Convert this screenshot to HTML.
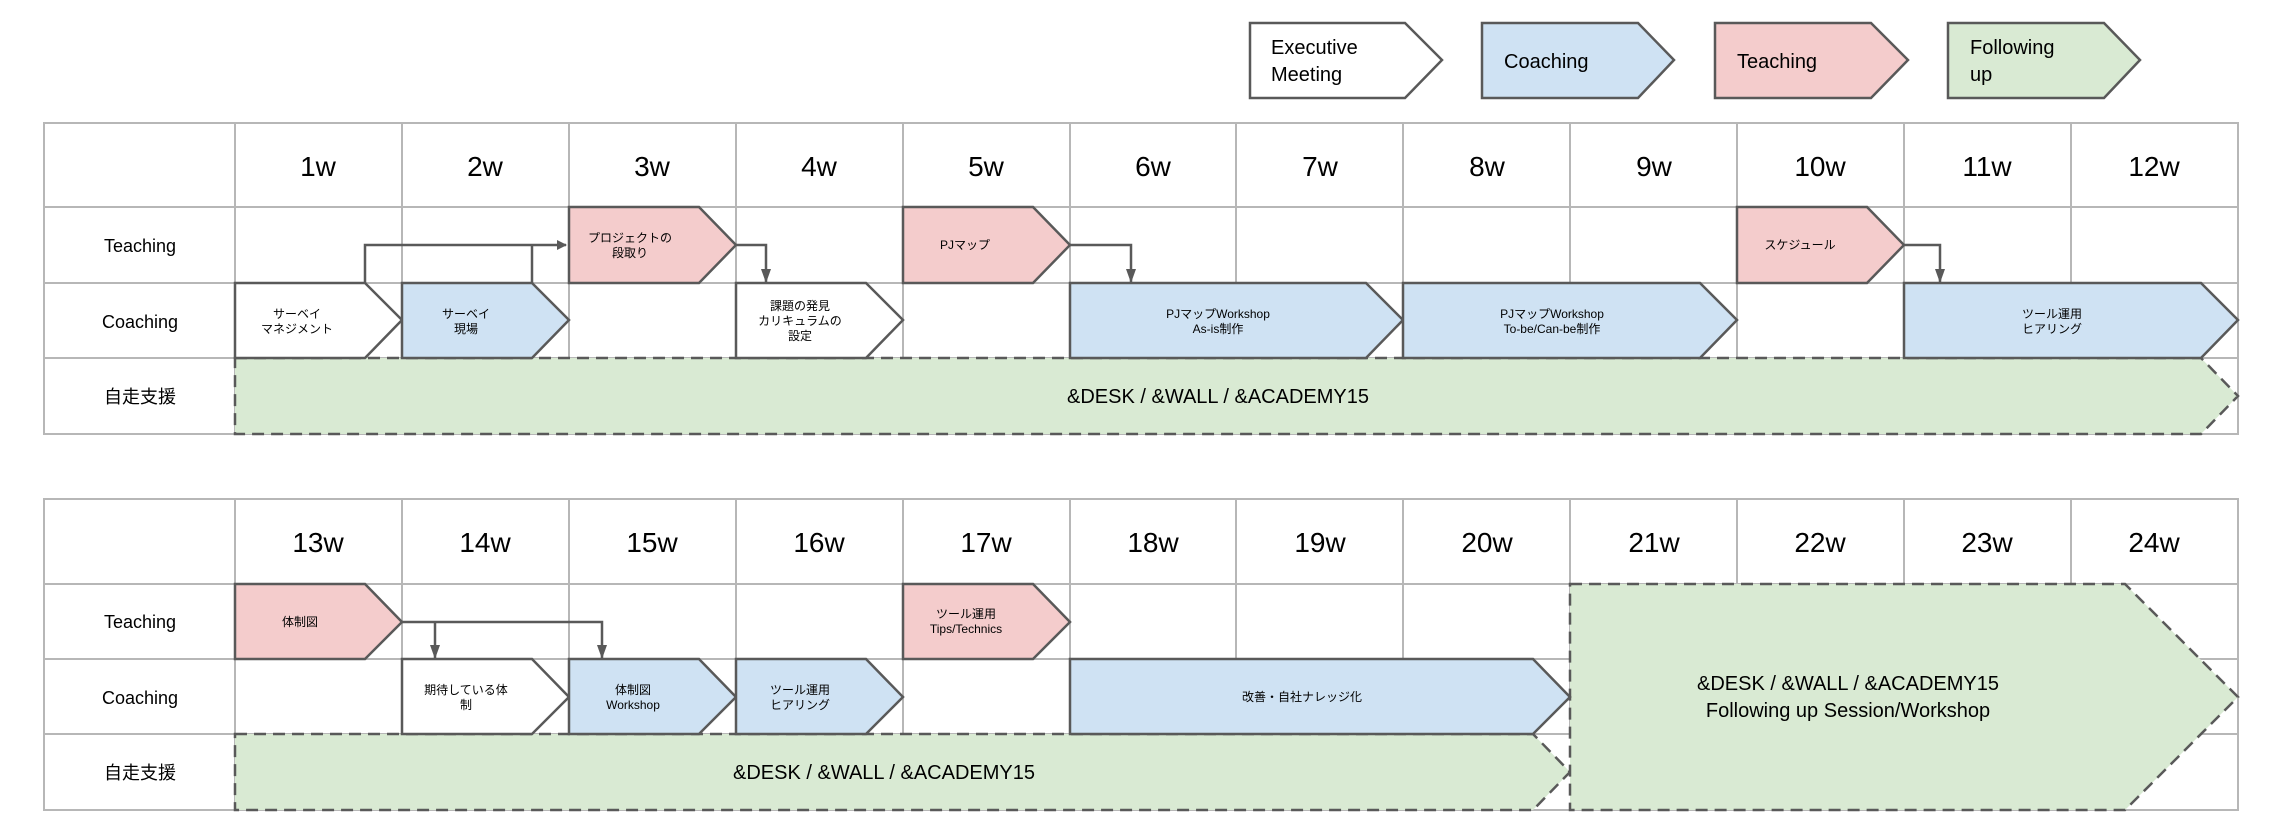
<!DOCTYPE html>
<html><head><meta charset="utf-8"><style>
html,body{margin:0;padding:0;background:#fff;}
svg{display:block;}
text{font-family:"Liberation Sans","Noto Sans CJK JP",sans-serif;fill:#000;}
</style></head><body>
<svg width="2288" height="834" viewBox="0 0 2288 834" xmlns="http://www.w3.org/2000/svg">
<defs>
<marker id="ar" markerWidth="10" markerHeight="10" refX="9" refY="5" orient="auto" markerUnits="userSpaceOnUse"><path d="M0,0 L10,5 L0,10 Z" fill="#595959"/></marker>
<marker id="ad" markerWidth="10" markerHeight="14" refX="5" refY="13" orient="0" markerUnits="userSpaceOnUse"><path d="M0,0 L10,0 L5,14 Z" fill="#595959"/></marker>
</defs>

<!-- Legend -->
<g stroke="#595959" stroke-width="2.5">
<path d="M1250 23 H1405 L1442 60 L1405 98 H1250 Z" fill="#fff"/>
<path d="M1482 23 H1638 L1674 60 L1638 98 H1482 Z" fill="#cfe2f3"/>
<path d="M1715 23 H1871 L1908 60 L1871 98 H1715 Z" fill="#f4cccc"/>
<path d="M1948 23 H2104 L2140 60 L2104 98 H1948 Z" fill="#d9ead3"/>
</g>
<g font-size="20">
<text x="1271" y="54">Executive</text><text x="1271" y="81">Meeting</text>
<text x="1504" y="68">Coaching</text>
<text x="1737" y="68">Teaching</text>
<text x="1970" y="54">Following</text><text x="1970" y="81">up</text>
</g>

<!-- ===== TOP TABLE ===== -->
<g stroke="#b7b7b7" stroke-width="2" fill="none">
<rect x="44" y="123" width="2194" height="311"/>
<path d="M44 207 H2238 M44 283 H2238 M44 358 H2238"/>
<path d="M235 123 V434 M402 123 V358 M569 123 V358 M736 123 V358 M903 123 V358 M1070 123 V358 M1236 123 V358 M1403 123 V358 M1570 123 V358 M1737 123 V358 M1904 123 V358 M2071 123 V358"/>
</g>
<g font-size="28" text-anchor="middle">
<text x="318" y="176">1w</text><text x="485" y="176">2w</text><text x="652" y="176">3w</text><text x="819" y="176">4w</text><text x="986" y="176">5w</text><text x="1153" y="176">6w</text><text x="1320" y="176">7w</text><text x="1487" y="176">8w</text><text x="1654" y="176">9w</text><text x="1820" y="176">10w</text><text x="1987" y="176">11w</text><text x="2154" y="176">12w</text>
</g>
<g font-size="18" text-anchor="middle">
<text x="140" y="252">Teaching</text><text x="140" y="328">Coaching</text><text x="140" y="403">自走支援</text>
</g>

<!-- green band -->
<path d="M235 358 H2201 L2238 396 L2201 434 H235 Z" fill="#d9ead3" stroke="#595959" stroke-width="2.5" stroke-dasharray="12,7"/>
<text x="1218" y="403" font-size="20" text-anchor="middle">&amp;DESK / &amp;WALL / &amp;ACADEMY15</text>

<g stroke="#595959" stroke-width="2.5">
<!-- teaching -->
<path d="M569 207 H699 L736 245 L699 283 H569 Z" fill="#f4cccc"/>
<path d="M903 207 H1033 L1070 245 L1033 283 H903 Z" fill="#f4cccc"/>
<path d="M1737 207 H1867 L1904 245 L1867 283 H1737 Z" fill="#f4cccc"/>
<!-- coaching -->
<path d="M235 283 H365 L402 320 L365 358 H235 Z" fill="#fff"/>
<path d="M402 283 H532 L569 320 L532 358 H402 Z" fill="#cfe2f3"/>
<path d="M736 283 H866 L903 320 L866 358 H736 Z" fill="#fff"/>
<path d="M1070 283 H1366 L1403 320 L1366 358 H1070 Z" fill="#cfe2f3"/>
<path d="M1403 283 H1700 L1737 320 L1700 358 H1403 Z" fill="#cfe2f3"/>
<path d="M1904 283 H2201 L2238 320 L2201 358 H1904 Z" fill="#cfe2f3"/>
</g>
<!-- connectors top -->
<g stroke="#595959" stroke-width="2.5" fill="none">
<path d="M365 283 V245 H566" marker-end="url(#ar)"/>
<path d="M532 283 V245"/>
<path d="M736 245 H766 V282" marker-end="url(#ad)"/>
<path d="M1070 245 H1131 V282" marker-end="url(#ad)"/>
<path d="M1904 245 H1940 V282" marker-end="url(#ad)"/>
</g>
<g font-size="12" text-anchor="middle">
<text x="630" y="242">プロジェクトの</text><text x="630" y="257">段取り</text>
<text x="965" y="249">PJマップ</text>
<text x="1800" y="249">スケジュール</text>
<text x="297" y="318">サーベイ</text><text x="297" y="333">マネジメント</text>
<text x="466" y="318">サーベイ</text><text x="466" y="333">現場</text>
<text x="800" y="310">課題の発見</text><text x="800" y="325">カリキュラムの</text><text x="800" y="340">設定</text>
<text x="1218" y="318">PJマップWorkshop</text><text x="1218" y="333">As-is制作</text>
<text x="1552" y="318">PJマップWorkshop</text><text x="1552" y="333">To-be/Can-be制作</text>
<text x="2052" y="318">ツール運用</text><text x="2052" y="333">ヒアリング</text>
</g>

<!-- ===== BOTTOM TABLE ===== -->
<g stroke="#b7b7b7" stroke-width="2" fill="none">
<rect x="44" y="499" width="2194" height="311"/>
<path d="M44 584 H2238 M44 659 H2238 M44 734 H2238"/>
<path d="M235 499 V810 M402 499 V734 M569 499 V734 M736 499 V734 M903 499 V734 M1070 499 V734 M1236 499 V734 M1403 499 V734 M1570 499 V734 M1737 499 V584 M1904 499 V584 M2071 499 V584"/>
</g>
<g font-size="28" text-anchor="middle">
<text x="318" y="552">13w</text><text x="485" y="552">14w</text><text x="652" y="552">15w</text><text x="819" y="552">16w</text><text x="986" y="552">17w</text><text x="1153" y="552">18w</text><text x="1320" y="552">19w</text><text x="1487" y="552">20w</text><text x="1654" y="552">21w</text><text x="1820" y="552">22w</text><text x="1987" y="552">23w</text><text x="2154" y="552">24w</text>
</g>
<g font-size="18" text-anchor="middle">
<text x="140" y="628">Teaching</text><text x="140" y="704">Coaching</text><text x="140" y="779">自走支援</text>
</g>

<path d="M235 734 H1533 L1570 772 L1533 810 H235 Z" fill="#d9ead3" stroke="#595959" stroke-width="2.5" stroke-dasharray="12,7"/>
<text x="884" y="779" font-size="20" text-anchor="middle">&amp;DESK / &amp;WALL / &amp;ACADEMY15</text>
<path d="M1570 584 H2125 L2238 697 L2125 810 H1570 Z" fill="#d9ead3" stroke="#595959" stroke-width="2.5" stroke-dasharray="12,7"/>
<text x="1848" y="690" font-size="20" text-anchor="middle">&amp;DESK / &amp;WALL / &amp;ACADEMY15</text>
<text x="1848" y="717" font-size="20" text-anchor="middle">Following up Session/Workshop</text>

<g stroke="#595959" stroke-width="2.5">
<path d="M235 584 H365 L402 622 L365 659 H235 Z" fill="#f4cccc"/>
<path d="M903 584 H1033 L1070 622 L1033 659 H903 Z" fill="#f4cccc"/>
<path d="M402 659 H532 L569 697 L532 734 H402 Z" fill="#fff"/>
<path d="M569 659 H699 L736 697 L699 734 H569 Z" fill="#cfe2f3"/>
<path d="M736 659 H866 L903 697 L866 734 H736 Z" fill="#cfe2f3"/>
<path d="M1070 659 H1533 L1570 697 L1533 734 H1070 Z" fill="#cfe2f3"/>
</g>
<g stroke="#595959" stroke-width="2.5" fill="none">
<path d="M402 622 H602 V658" marker-end="url(#ad)"/>
<path d="M435 622 V658" marker-end="url(#ad)"/>
</g>
<g font-size="12" text-anchor="middle">
<text x="300" y="626">体制図</text>
<text x="966" y="618">ツール運用</text><text x="966" y="633">Tips/Technics</text>
<text x="466" y="694">期待している体</text><text x="466" y="709">制</text>
<text x="633" y="694">体制図</text><text x="633" y="709">Workshop</text>
<text x="800" y="694">ツール運用</text><text x="800" y="709">ヒアリング</text>
<text x="1302" y="701">改善・自社ナレッジ化</text>
</g>
</svg>
</body></html>
